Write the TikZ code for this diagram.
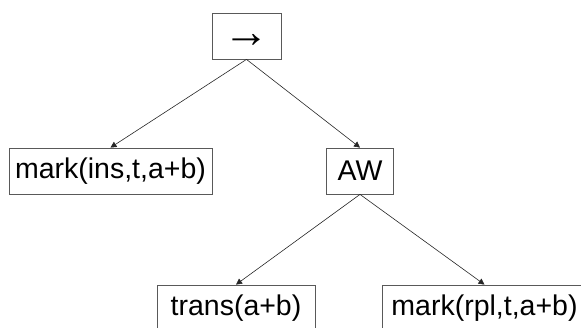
\documentclass[tikz,border=0pt]{standalone}
\usepackage{fontspec}
\setmainfont{Liberation Sans}
\usetikzlibrary{arrows.meta}
\begin{document}
\begin{tikzpicture}[x=1pt,y=-1pt,
  box/.style={draw=black!65,line width=0.8pt,fill=white,inner sep=0pt,minimum height=46pt,
    font=\fontsize{28.5}{32}\selectfont},
  edge/.style={draw=black!85,line width=0.6pt,-{Triangle[width=6pt,length=6pt]}}]
\useasboundingbox (0,0) rectangle (581,327);
\clip (0,0) rectangle (581,327);
\node[box,minimum width=69pt] (top) at (246.5,36) {\fontsize{46}{48}\selectfont\smash{\raisebox{-11pt}{→}}};
\node[box,minimum width=203pt] (ins) at (110.5,171) {mark(ins,t,a+b)};
\node[box,minimum width=67pt] (aw) at (360,171) {AW};
\node[box,minimum width=158pt] (trans) at (236,308) {trans(a+b)};
\node[box,minimum width=204pt] (rpl) at (484.5,308) {mark(rpl,t,a+b)};
\draw[edge] (top.south) -- (ins.north);
\draw[edge] (top.south) -- (aw.north);
\draw[edge] (aw.south) -- (trans.north);
\draw[edge] (aw.south) -- (rpl.north);
\end{tikzpicture}
\end{document}
